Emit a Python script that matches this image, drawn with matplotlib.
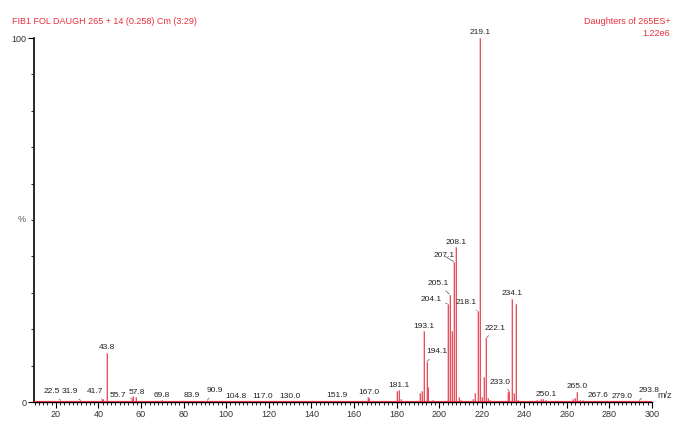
import numpy as np
import matplotlib.pyplot as plt

plt.rcParams['font.family'] = ['Liberation Sans', 'DejaVu Sans']

# labelled peaks (m/z, relative intensity %)
label_mz = [22.5, 31.9, 41.7, 43.8, 55.7, 57.8, 69.8, 83.9, 90.9, 104.8, 117.0, 130.0,
            151.9, 167.0, 181.1, 193.1, 194.1, 204.1, 205.1, 207.1, 208.1, 218.1, 219.1,
            222.1, 233.0, 234.1, 250.1, 265.0, 267.6, 279.0, 293.8]
label_int = [0.3, 0.3, 0.8, 13.5, 1.0, 1.3, 0.5, 0.3, 0.3, 0.2, 0.2, 0.2,
             0.3, 1.2, 3.2, 19.5, 11.0, 27.0, 29.5, 38.5, 42.5, 25.0, 100.0,
             17.5, 3.0, 28.3, 0.6, 2.8, 0.3, 0.2, 0.3]

# other peaks without a label
other_mz = [42.3, 56.2, 65.0, 71.0, 166.4, 180.0, 182.0, 191.0, 192.0, 195.0, 197.0,
            206.1, 209.5, 210.5, 216.0, 217.0, 220.2, 221.0, 223.0, 224.0, 232.2, 235.2,
            236.1, 237.0, 246.0, 248.0, 249.0, 263.0, 264.0, 266.0]
other_int = [0.8, 1.6, 0.3, 0.3, 1.5, 3.0, 0.8, 2.5, 3.0, 4.0, 0.5,
             19.5, 1.5, 0.5, 0.8, 2.5, 1.5, 7.0, 1.0, 0.5, 2.8, 2.5,
             27.0, 0.5, 0.5, 0.8, 0.8, 0.8, 1.0, 0.5]

title_left = 'FIB1 FOL DAUGH 265 + 14 (0.258) Cm (3:29)'
title_right = 'Daughters of 265ES+'
scale_text = '1.22e6'

# label offsets in pixels (dx, dy) from peak top
label_off = [(-9, 9), (-11, 9), (-7, 8), (0, 5), (-14, 3), (0, 5), (0, 5), (0, 5), (8, 10),
             (0, 5), (0, 5), (0, 5), (0, 5), (0, 5), (0, 5), (0, 5), (10, 10), (-17, 4),
             (-12, 11), (-10, 6), (0, 5), (-11, 8), (0, 6), (9, 10), (-9, 9), (0, 5),
             (0, 5), (0, 5), (15, 5), (15, 5), (10, 10)]

RED = '#e8303c'

fig = plt.figure(figsize=(6.85, 4.28), dpi=100)
ax = fig.add_axes([33.5 / 685, 26 / 428, (652 - 33.5) / 685, (402 - 38) / 428])

all_mz = np.array(label_mz + other_mz)
all_int = np.array(label_int + other_int)
ax.vlines(all_mz, 0, all_int, color='#f8c0c4', lw=1.4, zorder=2)
ax.vlines(all_mz, 0, all_int, color='#e4505c', lw=0.7, zorder=3)
ax.axhline(0.25, color=RED, lw=0.8, zorder=3)

for mz, h, (dx, dy) in zip(label_mz, label_int, label_off):
    txt = f'{mz:.1f}'
    if abs(dx) > 3 or dy > 7:
        ax.annotate(txt, xy=(mz, h), xytext=(dx * 0.72, dy * 0.72), textcoords='offset points',
                    ha='center', va='center', fontsize=6, color='#222222',
                    arrowprops=dict(arrowstyle='-', color='#555555', lw=0.5,
                                    shrinkA=1, shrinkB=0.5), zorder=5)
    else:
        ax.annotate(txt, xy=(mz, h), xytext=(dx * 0.72, dy * 0.72), textcoords='offset points',
                    ha='center', va='center', fontsize=6, color='#222222', zorder=5)

ax.set_xlim(9.5, 300)
ax.set_ylim(0, 100)
ax.set_xticks(np.arange(20, 301, 20))
ax.set_xticks(np.arange(10, 301, 2), minor=True)
ax.set_yticks([0, 100])
ax.set_yticks(np.arange(0, 101, 10), minor=True)
ax.tick_params(axis='x', which='major', length=4, width=0.8, labelsize=6.5, pad=2,
               labelcolor='#333333')
ax.tick_params(axis='x', which='minor', length=2.5, width=0.6)
ax.tick_params(axis='y', which='major', length=4, width=0.8, labelsize=6.5, pad=1,
               labelcolor='#333333')
ax.tick_params(axis='y', which='minor', length=2, width=0.6)
for s in ['top', 'right']:
    ax.spines[s].set_visible(False)
ax.spines['left'].set_linewidth(1.2)
ax.spines['bottom'].set_linewidth(1.0)

ax.text(-0.012, 50, '%', transform=ax.get_yaxis_transform(), ha='right', va='center',
        fontsize=6.5, color='#555555')
ax.text(1.008, 0.5, 'm/z', transform=ax.get_yaxis_transform(), ha='left', va='bottom',
        fontsize=6.5, color='#333333')

fig.text(12 / 685, 1 - 21 / 428, title_left, ha='left', va='center', fontsize=6.5, color=RED)
fig.text(670 / 685, 1 - 21 / 428, title_right, ha='right', va='center', fontsize=6.5, color=RED)
fig.text(670 / 685, 1 - 33 / 428, scale_text, ha='right', va='center', fontsize=6.5, color=RED)

fig.savefig('out.png', dpi=100)
